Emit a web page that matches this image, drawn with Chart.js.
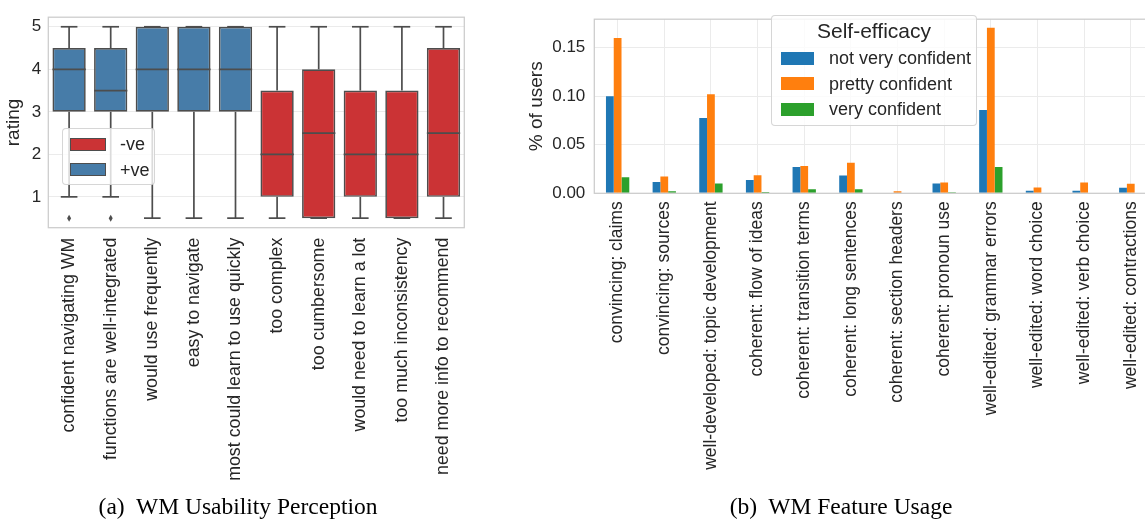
<!DOCTYPE html>
<html>
<head>
<meta charset="utf-8">
<script src="https://cdn.jsdelivr.net/npm/chart.js@4.4.1/dist/chart.umd.min.js"></script>
<style>
  html, body { margin: 0; padding: 0; background: #fff; }
  body { width: 1145px; height: 522px; position: relative; overflow: hidden; font-family: "Liberation Sans", Arial, sans-serif; color: #262626; }
  .wrap { position: absolute; }
  .legend { position: absolute; background: rgba(255,255,255,0.8); border: 1px solid rgba(204,204,204,0.8); border-radius: 4px; box-sizing: border-box; }
  .sw { position: absolute; box-sizing: border-box; }
  .lbl { position: absolute; font-size: 18px; line-height: 20px; white-space: nowrap; }
  .caption { position: absolute; top: 493px; font-family: "Liberation Serif", "Times New Roman", serif; font-size: 23.5px; color: #000; white-space: nowrap; transform: translateX(-50%); }
</style>
</head>
<body>
<div class="wrap" id="wrapA" style="left:0;top:0;width:475px;height:522px;"><canvas id="boxChart"></canvas></div>
<div class="wrap" id="wrapB" style="left:520px;top:0;width:640px;height:522px;"><canvas id="barChart"></canvas></div>

<div class="legend" id="legA" style="left:62px;top:128px;width:93px;height:57px;"></div>
<div class="legend" id="legB" style="left:771px;top:15px;width:206px;height:111px;"></div>

<div class="caption" style="left:238px;">(a)&nbsp; WM Usability Perception</div>
<div class="caption" style="left:841px;">(b)&nbsp; WM Feature Usage</div>

<script>
'use strict';
// ---- (a) usability perception, box plot summary per statement ----
let usabilityItems = ['confident navigating WM', 'functions are well-integrated', 'would use frequently',
  'easy to navigate', 'most could learn to use quickly', 'too complex', 'too cumbersome',
  'would need to learn a lot', 'too much inconsistency', 'need more info to recommend'];
let polarity = ['+ve', '+ve', '+ve', '+ve', '+ve', '-ve', '-ve', '-ve', '-ve', '-ve'];
let q1 = [3, 3, 3, 3, 3, 1, 0.5, 1, 0.5, 1];
let median = [4, 3.5, 4, 4, 4, 2, 2.5, 2, 2, 2.5];
let q3 = [4.5, 4.5, 5, 5, 5, 3.5, 4, 3.5, 3.5, 4.5];
let whiskerLow = [1, 1, 0.5, 0.5, 0.5, 0.5, 0.5, 0.5, 0.5, 0.5];
let whiskerHigh = [5, 5, 5, 5, 5, 5, 5, 5, 5, 5];
let outliers = [[0.5], [0.5], [], [], [], [], [], [], [], []];
let ratingTicks = [1, 2, 3, 4, 5];

// ---- (b) feature usage by self-efficacy ----
let features = ['convincing: claims', 'convincing: sources', 'well-developed: topic development',
  'coherent: flow of ideas', 'coherent: transition terms', 'coherent: long sentences',
  'coherent: section headers', 'coherent: pronoun use', 'well-edited: grammar errors',
  'well-edited: word choice', 'well-edited: verb choice', 'well-edited: contractions'];
let efficacyLevels = ['not very confident', 'pretty confident', 'very confident'];
let notVeryConfident = [0.100, 0.0117, 0.0776, 0.0136, 0.0272, 0.0184, 0, 0.0101, 0.0859, 0.0025, 0.0025, 0.0057];
let prettyConfident = [0.160, 0.0174, 0.102, 0.0187, 0.0282, 0.0314, 0.0022, 0.0111, 0.1705, 0.0060, 0.0111, 0.0098];
let veryConfident = [0.0165, 0.0022, 0.0101, 0.0013, 0.0041, 0.0041, 0, 0.0010, 0.0272, 0, 0, 0];
let usageTicks = [0, 0.05, 0.10, 0.15];

let polarityColors = { '-ve': '#cb3335', '+ve': '#477ca8' };
let efficacyColors = ['#1f77b4', '#ff7f0e', '#2ca02c'];
let lineGray = '#4d4d4d';
let gridColor = '#ebebeb';
let frameColor = '#cccccc';

Chart.defaults.font.family = '"Liberation Sans", Arial, sans-serif';
Chart.defaults.color = '#262626';

// frame around plot area
let frame = {
  id: 'frame',
  afterDraw(chart) {
    let a = chart.chartArea, ctx = chart.ctx;
    ctx.save();
    ctx.strokeStyle = frameColor;
    ctx.lineWidth = 1.25;
    ctx.strokeRect(a.left, a.top, a.right - a.left, a.bottom - a.top);
    ctx.restore();
  }
};

// whiskers, medians and outliers on top of the floating bars
let boxParts = {
  id: 'boxParts',
  afterDatasetsDraw(chart) {
    let ctx = chart.ctx, y = chart.scales.y;
    let bars = chart.getDatasetMeta(0).data;
    ctx.save();
    ctx.strokeStyle = lineGray;
    ctx.fillStyle = lineGray;
    ctx.lineWidth = 1.7;
    function seg(x1, y1, x2, y2) { ctx.beginPath(); ctx.moveTo(x1, y1); ctx.lineTo(x2, y2); ctx.stroke(); }
    bars.forEach(function (bar, i) {
      let cx = bar.x, half = bar.width / 2, cap = half / 2;
      let yHi = y.getPixelForValue(whiskerHigh[i]), yLo = y.getPixelForValue(whiskerLow[i]);
      seg(cx, y.getPixelForValue(q3[i]), cx, yHi);
      seg(cx - cap, yHi, cx + cap, yHi);
      seg(cx, y.getPixelForValue(q1[i]), cx, yLo);
      seg(cx - cap, yLo, cx + cap, yLo);
      let ym = y.getPixelForValue(median[i]);
      seg(cx - half, ym, cx + half, ym);
      outliers[i].forEach(function (v) {
        let yo = y.getPixelForValue(v);
        ctx.beginPath();
        ctx.moveTo(cx, yo - 3.5); ctx.lineTo(cx + 2, yo); ctx.lineTo(cx, yo + 3.5); ctx.lineTo(cx - 2, yo);
        ctx.closePath();
        ctx.fill();
      });
    });
    ctx.restore();
  }
};

new Chart(document.getElementById('boxChart'), {
  type: 'bar',
  data: {
    labels: usabilityItems,
    datasets: [{
      label: 'rating',
      data: q1.map(function (v, i) { return [v, q3[i]]; }),
      backgroundColor: polarity.map(function (p) { return polarityColors[p]; }),
      borderColor: lineGray,
      borderWidth: 1.7,
      borderSkipped: false,
      barPercentage: 0.8,
      categoryPercentage: 1.0
    }]
  },
  options: {
    responsive: true,
    maintainAspectRatio: false,
    animation: false,
    layout: { padding: { left: 0, top: 7.3, right: 10.7, bottom: 0 } },
    plugins: { legend: { display: false }, tooltip: { enabled: false } },
    scales: {
      x: {
        grid: { display: false },
        border: { display: false },
        ticks: { autoSkip: false, maxRotation: 90, minRotation: 90, padding: 2, font: { size: 17.8 } },
        afterFit: function (s) { s.height = 522 - 227.7; }
      },
      y: {
        min: 0.275,
        max: 5.225,
        afterBuildTicks: function (s) { s.ticks = ratingTicks.map(function (v) { return { value: v }; }); },
        grid: { color: gridColor, lineWidth: 1, drawTicks: false },
        border: { display: false },
        ticks: { padding: 7, font: { size: 17 } },
        title: { display: true, text: 'rating', font: { size: 19 }, padding: { top: 2, bottom: 0 } },
        afterFit: function (s) { s.width = 48.3; }
      }
    }
  },
  plugins: [frame, boxParts]
});

new Chart(document.getElementById('barChart'), {
  type: 'bar',
  data: {
    labels: features,
    datasets: [notVeryConfident, prettyConfident, veryConfident].map(function (vals, k) {
      return {
        label: efficacyLevels[k],
        data: vals,
        backgroundColor: efficacyColors[k],
        borderWidth: 0,
        barPercentage: 1.0,
        categoryPercentage: 0.5
      };
    })
  },
  options: {
    responsive: true,
    maintainAspectRatio: false,
    animation: false,
    layout: { padding: { left: 0, top: 4.7, right: 5.3, bottom: 0 } },
    plugins: { legend: { display: false }, tooltip: { enabled: false } },
    scales: {
      x: {
        grid: { color: gridColor, offset: false, drawTicks: false },
        border: { display: false },
        ticks: { autoSkip: false, maxRotation: 90, minRotation: 90, padding: 8, font: { size: 17.5 } },
        afterFit: function (s) { s.height = 522 - 193.3; }
      },
      y: {
        min: 0,
        max: 0.1793,
        afterBuildTicks: function (s) { s.ticks = usageTicks.map(function (v) { return { value: v }; }); },
        grid: { color: gridColor, drawTicks: false },
        border: { display: false },
        ticks: { padding: 9, font: { size: 17 }, callback: function (v) { return Number(v).toFixed(2); } },
        title: { display: true, text: '% of users', font: { size: 19 }, padding: { top: 5, bottom: 0 } },
        afterFit: function (s) { s.width = 74.3; }
      }
    }
  },
  plugins: [frame]
});

// legends
function addRow(box, top, swLeft, swW, color, edge, textLeft, text) {
  let sw = document.createElement('div');
  sw.className = 'sw';
  sw.style.cssText = 'left:' + swLeft + 'px;top:' + (top - 6.5) + 'px;width:' + swW + 'px;height:13px;background:' + color + ';' + (edge ? 'border:1.2px solid ' + edge + ';' : '');
  box.appendChild(sw);
  let t = document.createElement('div');
  t.className = 'lbl';
  t.style.cssText = 'left:' + textLeft + 'px;top:' + (top - 10) + 'px;';
  t.textContent = text;
  box.appendChild(t);
}
let legA = document.getElementById('legA');
['-ve', '+ve'].forEach(function (p, k) {
  addRow(legA, 15 + k * 25.7, 7, 36, polarityColors[p], lineGray, 57, p);
});
let legB = document.getElementById('legB');
let ttl = document.createElement('div');
ttl.className = 'lbl';
ttl.style.cssText = 'left:0;right:0;text-align:center;top:3px;font-size:21px;line-height:24px;';
ttl.textContent = 'Self-efficacy';
legB.appendChild(ttl);
efficacyLevels.forEach(function (lev, k) {
  addRow(legB, 42 + k * 25.5, 9, 33, efficacyColors[k], null, 57, lev);
});
</script>
</body>
</html>
